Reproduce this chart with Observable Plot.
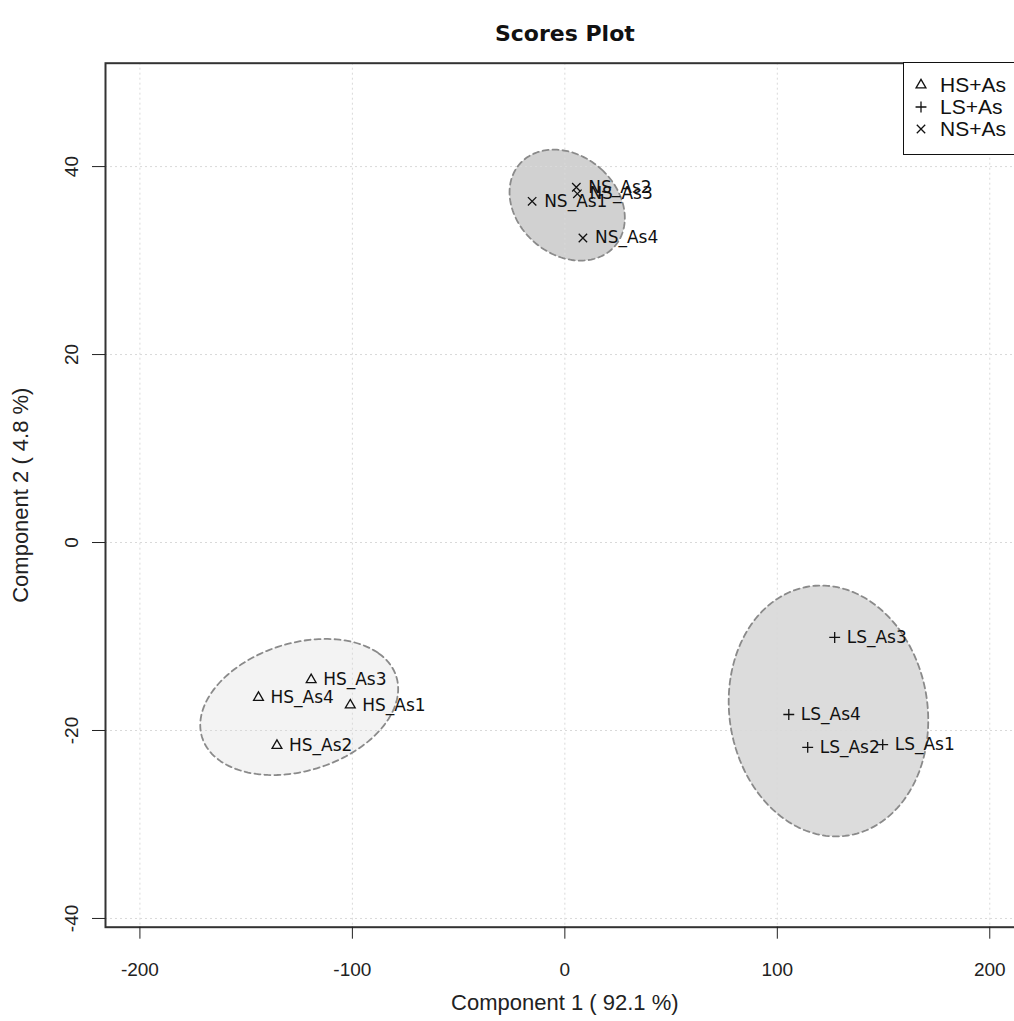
<!DOCTYPE html>
<html><head><meta charset="utf-8">
<script src="https://cdn.jsdelivr.net/npm/d3@7"></script>
<script src="https://cdn.jsdelivr.net/npm/@observablehq/plot@0.6"></script>
<style>
html,body{margin:0;padding:0;background:#fff;overflow:hidden;}
#wrap{position:relative;width:1060px;height:1021px;}
#legend{position:absolute;left:903px;top:62px;width:130px;height:93px;border:1.5px solid #111;background:#fff;box-sizing:border-box;}
</style></head><body><div id="wrap"></div>
<script>
// ---- data ----
const title = "Scores Plot";
const xLabel = "Component 1 ( 92.1 %)";
const yLabel = "Component 2 ( 4.8 %)";
const groups = ["HS+As", "LS+As", "NS+As"];
const sampleNames = ["HS_As1","HS_As2","HS_As3","HS_As4","LS_As1","LS_As2","LS_As3","LS_As4","NS_As1","NS_As2","NS_As3","NS_As4"];
const sampleGroup = ["HS+As","HS+As","HS+As","HS+As","LS+As","LS+As","LS+As","LS+As","NS+As","NS+As","NS+As","NS+As"];
const comp1 = [-101.0,-135.5,-119.4,-144.2, 149.6,114.3,127.0,105.4, -15.4,5.4,5.9,8.5];
const comp2 = [-17.3,-21.6,-14.6,-16.5, -21.5,-21.8,-10.1,-18.3, 36.3,37.8,37.1,32.4];
const xTicks = [-200,-100,0,100,200];
const yTicks = [-40,-20,0,20,40];

// ---- build ----
const data = sampleNames.map((name,i)=>({name, group: sampleGroup[i], x: comp1[i], y: comp2[i]}));
const symbolOf = {"HS+As":"triangle2","LS+As":"plus","NS+As":"times"};
const rOf = {"HS+As":4.7,"LS+As":3.6,"NS+As":3.9};
const fillOf = {"HS+As":"#f3f3f3","LS+As":"#dcdcdc","NS+As":"#d1d1d1"};

// 95% confidence ellipse (as in R ellipse::ellipse with level = 0.95)
const T = Math.sqrt(5.991464547);
function ellipse(pts){
  const n = pts.length;
  const mx = d3.mean(pts,d=>d.x), my = d3.mean(pts,d=>d.y);
  const vx = d3.sum(pts,d=>(d.x-mx)**2)/(n-1);
  const vy = d3.sum(pts,d=>(d.y-my)**2)/(n-1);
  const cxy = d3.sum(pts,d=>(d.x-mx)*(d.y-my))/(n-1);
  const sx = Math.sqrt(vx), sy = Math.sqrt(vy);
  const dd = Math.acos(cxy/(sx*sy));
  return d3.range(201).map(i=>{const a = 2*Math.PI*i/200; return {x: mx+T*sx*Math.cos(a+dd/2), y: my+T*sy*Math.cos(a-dd/2)};});
}
const ellipses = groups.map(g=>({g, pts: ellipse(data.filter(d=>d.group===g))}));

const marks = [];
for (const e of ellipses) marks.push(Plot.line(e.pts, {x:"x", y:"y", fill: fillOf[e.g], stroke: "none"}));
marks.push(Plot.gridX(xTicks, {stroke:"#d9d9d9", strokeOpacity:1, strokeDasharray:"2,3"}));
marks.push(Plot.gridY(yTicks, {stroke:"#d9d9d9", strokeOpacity:1, strokeDasharray:"2,3"}));
for (const e of ellipses) marks.push(Plot.line(e.pts, {x:"x", y:"y", fill:"none", stroke:"#8a8a8a", strokeWidth:1.8, strokeDasharray:"6,4"}));
for (const g of groups) marks.push(Plot.dot(data.filter(d=>d.group===g), {x:"x", y:"y", symbol: ()=>symbolOf[g], r: rOf[g], stroke:"#111", strokeWidth:1.3, fill:"none"}));
marks.push(Plot.text(data, {x:"x", y:"y", text:"name", textAnchor:"start", dx:12, fontSize:17, fontFamily:"DejaVu Sans", fill:"#111"}));
marks.push(Plot.frame({stroke:"#333", strokeWidth:2}));
marks.push(Plot.axisX(xTicks, {tickSize:12, tickPadding:23, fontSize:19, label:null, tickFormat:d=>String(d), stroke:"#222"}));
marks.push(Plot.axisY(yTicks, {tickSize:13, tickPadding:15, tickRotate:-90, fontSize:19, label:null, tickFormat:d=>String(d), stroke:"#222"}));
marks.push(Plot.text([title], {frameAnchor:"top", textAnchor:"middle", dy:-38, fontSize:22, fontWeight:"bold", fontFamily:"DejaVu Sans", fill:"#111"}));
marks.push(Plot.text([xLabel], {frameAnchor:"bottom", textAnchor:"middle", dy:83, fontSize:22, fill:"#222"}));
marks.push(Plot.text([yLabel], {frameAnchor:"left", textAnchor:"middle", dx:-85, rotate:-90, fontSize:22, fill:"#222"}));

const chart = Plot.plot({
  width: 1060, height: 1021,
  marginLeft: 105, marginRight: 36.3, marginTop: 62.7, marginBottom: 94.3,
  x: {domain: [-216.2, 216.2]},
  y: {domain: [-40.93, 51.0]},
  symbol: {type: "identity"},
  style: {fontFamily: "Liberation Sans", background: "#fff", color: "#222"},
  marks
});
const wrap = document.getElementById("wrap");
wrap.appendChild(chart);

// legend (R-style box, top right inside the plot)
const leg = d3.select(wrap).append("div").attr("id","legend");
const lsvg = leg.append("svg").attr("width",130).attr("height",90);
groups.forEach((g,i)=>{
  const cy = 22 + i*22;
  const size = Math.PI*rOf[g]*rOf[g];
  const sym = {"triangle2": d3.symbolTriangle2, "plus": d3.symbolPlus, "times": d3.symbolTimes}[symbolOf[g]];
  lsvg.append("path").attr("d", d3.symbol(sym, size)()).attr("transform",`translate(17,${cy})`).attr("fill","none").attr("stroke","#111").attr("stroke-width",1.3);
  lsvg.append("text").attr("x",36).attr("y",cy).attr("dy","0.35em").attr("font-family","Liberation Sans").attr("font-size",21).attr("fill","#111").text(g);
});
</script></body></html>
